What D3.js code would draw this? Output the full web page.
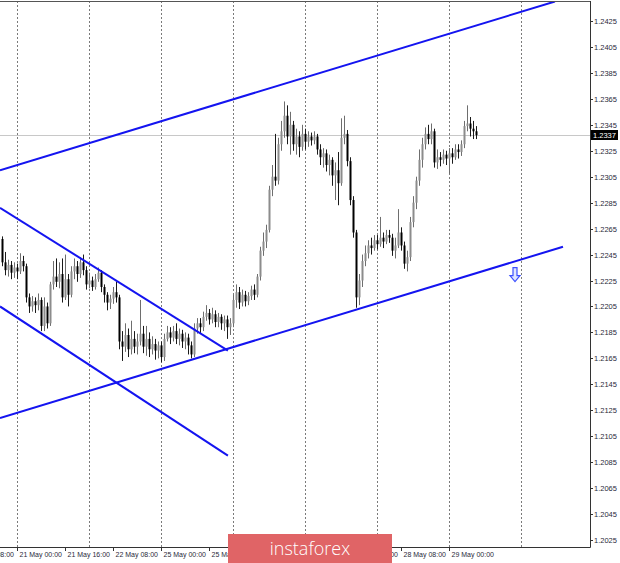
<!DOCTYPE html>
<html>
<head>
<meta charset="utf-8">
<script src="https://cdn.jsdelivr.net/npm/d3@7/dist/d3.min.js"></script>
<style>
  html, body { margin: 0; padding: 0; background: #ffffff; }
  svg { display: block; }
</style>
</head>
<body>
<svg id="chart" width="620" height="563"></svg>
<script>
// ---------- DATA ----------
// Hourly candles [open, high, low, close], index 0 = 20 May 19:00
const ohlc = [
  [1.2257,1.2259,1.2236,1.2239],[1.2239,1.2247,1.2229,1.2233],[1.2233,1.2241,1.2228,1.2237],[1.2237,1.2240,1.2226,1.2231],
  [1.2231,1.2239,1.2227,1.2235],[1.2235,1.2238,1.2226,1.2232],[1.2232,1.2246,1.2230,1.2240],[1.2240,1.2244,1.2232,1.2236],
  [1.2236,1.2238,1.2208,1.2212],[1.2212,1.2215,1.2200,1.2205],[1.2205,1.2213,1.2201,1.2209],[1.2209,1.2212,1.2200,1.2206],
  [1.2206,1.2215,1.2202,1.2210],[1.2210,1.2212,1.2186,1.2190],[1.2190,1.2212,1.2186,1.2205],[1.2205,1.2208,1.2188,1.2192],
  [1.2192,1.2224,1.2190,1.2222],[1.2222,1.2240,1.2218,1.2228],[1.2228,1.2242,1.2220,1.2224],[1.2224,1.2239,1.2219,1.2230],
  [1.2230,1.2242,1.2208,1.2212],[1.2212,1.2245,1.2210,1.2226],[1.2226,1.2230,1.2205,1.2214],[1.2214,1.2236,1.2212,1.2232],
  [1.2232,1.2242,1.2226,1.2236],[1.2236,1.2240,1.2224,1.2230],[1.2230,1.2243,1.2227,1.2239],[1.2239,1.2245,1.2229,1.2233],
  [1.2233,1.2236,1.2218,1.2222],[1.2222,1.2231,1.2219,1.2225],[1.2225,1.2228,1.2217,1.2220],[1.2220,1.2230,1.2218,1.2226],
  [1.2226,1.2235,1.2224,1.2231],[1.2231,1.2233,1.2216,1.2220],[1.2220,1.2222,1.2208,1.2214],[1.2214,1.2216,1.2202,1.2208],
  [1.2208,1.2214,1.2203,1.2211],[1.2211,1.2220,1.2207,1.2216],[1.2216,1.2224,1.2208,1.2212],[1.2212,1.2214,1.2172,1.2178],
  [1.2178,1.2186,1.2163,1.2174],[1.2174,1.2192,1.2170,1.2183],[1.2183,1.2188,1.2166,1.2172],[1.2172,1.2194,1.2168,1.2180],
  [1.2180,1.2186,1.2169,1.2174],[1.2174,1.2184,1.2168,1.2178],[1.2178,1.2210,1.2175,1.2184],[1.2184,1.2190,1.2169,1.2174],
  [1.2174,1.2190,1.2167,1.2180],[1.2180,1.2185,1.2166,1.2172],[1.2172,1.2182,1.2168,1.2176],[1.2176,1.2180,1.2164,1.2171],
  [1.2171,1.2178,1.2165,1.2175],[1.2175,1.2178,1.2162,1.2166],[1.2166,1.2184,1.2163,1.2180],[1.2180,1.2190,1.2178,1.2185],
  [1.2185,1.2189,1.2176,1.2181],[1.2181,1.2190,1.2178,1.2186],[1.2186,1.2192,1.2176,1.2180],[1.2180,1.2188,1.2175,1.2184],
  [1.2184,1.2187,1.2173,1.2178],[1.2178,1.2185,1.2172,1.2181],[1.2181,1.2184,1.2168,1.2175],[1.2175,1.2178,1.2165,1.2168],
  [1.2168,1.2192,1.2166,1.2188],[1.2188,1.2196,1.2184,1.2192],[1.2192,1.2196,1.2184,1.2189],[1.2189,1.2201,1.2186,1.2197],
  [1.2197,1.2206,1.2194,1.2200],[1.2200,1.2203,1.2191,1.2195],[1.2195,1.2204,1.2192,1.2199],[1.2199,1.2202,1.2189,1.2193],
  [1.2193,1.2200,1.2189,1.2197],[1.2197,1.2199,1.2187,1.2192],[1.2192,1.2198,1.2186,1.2195],[1.2195,1.2198,1.2180,1.2189],
  [1.2189,1.2196,1.2183,1.2192],[1.2192,1.2214,1.2189,1.2210],[1.2210,1.2222,1.2204,1.2216],[1.2216,1.2220,1.2203,1.2208],
  [1.2208,1.2218,1.2205,1.2214],[1.2214,1.2217,1.2205,1.2209],[1.2209,1.2216,1.2206,1.2213],[1.2213,1.2221,1.2210,1.2218],
  [1.2218,1.2222,1.2210,1.2214],[1.2214,1.2230,1.2212,1.2228],[1.2228,1.2251,1.2225,1.2248],[1.2248,1.2262,1.2244,1.2255],
  [1.2255,1.2268,1.2250,1.2264],[1.2264,1.2298,1.2262,1.2295],[1.2295,1.2314,1.2290,1.2305],[1.2305,1.2338,1.2298,1.2302],
  [1.2302,1.2335,1.2299,1.2330],[1.2330,1.2348,1.2325,1.2340],[1.2340,1.2363,1.2335,1.2352],[1.2352,1.2360,1.2330,1.2336],
  [1.2336,1.2355,1.2322,1.2345],[1.2345,1.2348,1.2325,1.2330],[1.2330,1.2342,1.2322,1.2336],[1.2336,1.2340,1.2320,1.2328],
  [1.2328,1.2345,1.2325,1.2338],[1.2338,1.2342,1.2326,1.2332],[1.2332,1.2340,1.2328,1.2336],[1.2336,1.2339,1.2329,1.2333],
  [1.2333,1.2340,1.2330,1.2336],[1.2336,1.2338,1.2322,1.2326],[1.2326,1.2330,1.2314,1.2320],[1.2320,1.2327,1.2312,1.2323],
  [1.2323,1.2326,1.2309,1.2314],[1.2314,1.2322,1.2306,1.2318],[1.2318,1.2320,1.2298,1.2306],[1.2306,1.2316,1.2287,1.2310],
  [1.2310,1.2324,1.2283,1.2300],[1.2300,1.2350,1.2298,1.2335],[1.2335,1.2352,1.2330,1.2338],[1.2338,1.2341,1.2313,1.2317],
  [1.2317,1.2320,1.2283,1.2287],[1.2287,1.2290,1.2258,1.2262],[1.2262,1.2264,1.2204,1.2212],[1.2212,1.2230,1.2206,1.2225],
  [1.2225,1.2245,1.2220,1.2240],[1.2240,1.2252,1.2236,1.2246],[1.2246,1.2256,1.2242,1.2252],[1.2252,1.2258,1.2245,1.2250],
  [1.2250,1.2260,1.2248,1.2256],[1.2256,1.2260,1.2249,1.2253],[1.2253,1.2274,1.2251,1.2258],[1.2258,1.2262,1.2250,1.2255],
  [1.2255,1.2264,1.2253,1.2260],[1.2260,1.2264,1.2254,1.2258],[1.2258,1.2261,1.2244,1.2248],[1.2248,1.2258,1.2242,1.2252],
  [1.2252,1.2280,1.2250,1.2262],[1.2262,1.2266,1.2248,1.2252],[1.2252,1.2255,1.2234,1.2238],[1.2238,1.2248,1.2232,1.2243],
  [1.2243,1.2274,1.2240,1.2270],[1.2270,1.2290,1.2266,1.2285],[1.2285,1.2305,1.2280,1.2302],[1.2302,1.2326,1.2298,1.2318],
  [1.2318,1.2335,1.2312,1.2330],[1.2330,1.2343,1.2326,1.2338],[1.2338,1.2345,1.2330,1.2334],[1.2334,1.2346,1.2330,1.2340],
  [1.2340,1.2342,1.2312,1.2316],[1.2316,1.2326,1.2311,1.2320],[1.2320,1.2324,1.2313,1.2318],[1.2318,1.2326,1.2315,1.2322],
  [1.2322,1.2325,1.2314,1.2319],[1.2319,1.2327,1.2307,1.2323],[1.2323,1.2327,1.2315,1.2320],[1.2320,1.2330,1.2318,1.2326],
  [1.2326,1.2330,1.2319,1.2324],[1.2324,1.2333,1.2321,1.2330],[1.2330,1.2348,1.2327,1.2344],[1.2344,1.2360,1.2340,1.2346],
  [1.2346,1.2351,1.2336,1.2342],[1.2342,1.2348,1.2334,1.2340],[1.2340,1.2344,1.2334,1.2337]
];

// Price axis ticks
const priceTicks = [1.2025,1.2045,1.2065,1.2085,1.2105,1.2125,1.2145,1.2165,1.2185,1.2205,
                    1.2225,1.2245,1.2265,1.2285,1.2305,1.2325,1.2345,1.2365,1.2385,1.2405,1.2425];
const currentPrice = 1.2337;

// Time axis labels (candle index, text)
const timeLabelIdx  = [-11, 5, 21, 37, 53, 69, 85, 101, 117, 133, 149];
const timeLabelText = ["20 May 08:00","21 May 00:00","21 May 16:00","22 May 08:00","25 May 00:00",
                       "25 May 16:00","26 May 08:00","27 May 00:00","27 May 16:00","28 May 08:00","29 May 00:00"];
// Day separators (candle index of each 00:00)
const daySeparators = [5, 29, 53, 77, 101, 125, 149, 173];

// Trend lines: [index1, price1, index2, price2]
const trendLines = [
  [-0.67, 1.2310, 184.3, 1.2440],
  [-0.67, 1.2119, 187.0, 1.2251],
  [-0.67, 1.2281, 75.3, 1.2171],
  [-0.67, 1.2205, 75.3, 1.2090]
];
// Down arrow marker: [index, price at top]
const arrowMarker = [171, 1.2235];

// ---------- LAYOUT ----------
const plotRight = 590, plotTop = 1, plotBottom = 547;

const x = d3.scaleLinear().domain([0, 196]).range([2, 590]);
const y = d3.scaleLinear().domain([1.2025, 1.2425]).range([540, 21]);

const svg = d3.select("#chart");
const font = "'Liberation Sans', Arial, sans-serif";

svg.append("defs").append("clipPath").attr("id", "plotClip")
  .append("rect").attr("x", 0).attr("y", plotTop).attr("width", plotRight).attr("height", plotBottom - plotTop);

const plot = svg.append("g").attr("clip-path", "url(#plotClip)");

// day separators (dotted)
plot.selectAll("line.sep").data(daySeparators).enter().append("line")
  .attr("x1", d => Math.round(x(d)) + 0.5).attr("x2", d => Math.round(x(d)) + 0.5)
  .attr("y1", plotTop).attr("y2", plotBottom)
  .attr("stroke", "#7a7a7a").attr("stroke-width", 1).attr("stroke-dasharray", "2,2");

// current price line
plot.append("line")
  .attr("x1", 0).attr("x2", plotRight)
  .attr("y1", Math.round(y(currentPrice)) + 0.5).attr("y2", Math.round(y(currentPrice)) + 0.5)
  .attr("stroke", "#c8c8c8").attr("stroke-width", 1);

// candles
const cg = plot.append("g");
ohlc.forEach((d, i) => {
  const [o, h, l, c] = d;
  const cx = Math.round(x(i));
  const bull = c >= o;
  cg.append("line")
    .attr("x1", cx + 0.5).attr("x2", cx + 0.5)
    .attr("y1", y(h)).attr("y2", y(l))
    .attr("stroke", bull ? "#6e6e6e" : "#1a1a1a").attr("stroke-width", 1);
  const top = y(Math.max(o, c)), bot = y(Math.min(o, c));
  cg.append("rect")
    .attr("x", cx - 0.5).attr("width", 2)
    .attr("y", top).attr("height", Math.max(1, bot - top))
    .attr("fill", bull ? "#8c8c8c" : "#000000");
});

// trend lines
plot.selectAll("line.trend").data(trendLines).enter().append("line")
  .attr("x1", d => x(d[0])).attr("y1", d => y(d[1]))
  .attr("x2", d => x(d[2])).attr("y2", d => y(d[3]))
  .attr("stroke", "#1414f0").attr("stroke-width", 2);

// down arrow
const ax = x(arrowMarker[0]), ay = y(arrowMarker[1]);
plot.append("path")
  .attr("d", `M${ax-2},${ay} L${ax+2},${ay} L${ax+2},${ay+8} L${ax+5},${ay+8} L${ax},${ay+14} L${ax-5},${ay+8} L${ax-2},${ay+8} Z`)
  .attr("fill", "#dfe6ff").attr("stroke", "#3c50ff").attr("stroke-width", 1.2);

// frame
svg.append("line").attr("x1", 0).attr("x2", plotRight + 0.5).attr("y1", plotTop + 0.5).attr("y2", plotTop + 0.5)
  .attr("stroke", "#555").attr("stroke-width", 1);
svg.append("line").attr("x1", plotRight + 0.5).attr("x2", plotRight + 0.5).attr("y1", plotTop).attr("y2", plotBottom + 0.5)
  .attr("stroke", "#333").attr("stroke-width", 1);
svg.append("line").attr("x1", 0).attr("x2", plotRight + 0.5).attr("y1", plotBottom + 0.5).attr("y2", plotBottom + 0.5)
  .attr("stroke", "#333").attr("stroke-width", 1);

// price axis
const yAxis = svg.append("g");
priceTicks.forEach(p => {
  const ty = Math.round(y(p)) + 0.5;
  yAxis.append("line").attr("x1", plotRight).attr("x2", plotRight + 3).attr("y1", ty).attr("y2", ty)
    .attr("stroke", "#333");
  yAxis.append("text").attr("x", plotRight + 4).attr("y", ty).attr("dy", "0.35em")
    .attr("font-family", font).attr("font-size", "7.5px").attr("fill", "#2a2a3a")
    .text(p.toFixed(4));
});
// current price badge
const cy = Math.round(y(currentPrice));
yAxis.append("rect").attr("x", plotRight + 1).attr("y", cy - 5).attr("width", 27).attr("height", 10).attr("fill", "#000");
yAxis.append("text").attr("x", plotRight + 14.5).attr("y", cy).attr("dy", "0.35em")
  .attr("text-anchor", "middle").attr("font-family", font).attr("font-size", "7.5px").attr("fill", "#fff")
  .text(currentPrice.toFixed(4));

// time axis
const xAxis = svg.append("g");
timeLabelIdx.forEach((k, i) => {
  const tx = Math.round(x(k)) + 0.5;
  xAxis.append("line").attr("x1", tx).attr("x2", tx).attr("y1", plotBottom).attr("y2", plotBottom + 4)
    .attr("stroke", "#333");
  xAxis.append("text").attr("x", tx + 2).attr("y", plotBottom + 8).attr("dy", "0.35em")
    .attr("font-family", font).attr("font-size", "7px").attr("fill", "#2a2a3a")
    .text(timeLabelText[i]);
});

// watermark logo
const logo = svg.append("g");
logo.append("rect").attr("x", 228).attr("y", 534).attr("width", 164).attr("height", 29).attr("fill", "#e06466");
logo.append("text").attr("x", 310).attr("y", 549).attr("dy", "0.35em").attr("text-anchor", "middle")
  .attr("font-family", "'Open Sans', Lato, sans-serif").attr("font-weight", 300)
  .attr("font-size", "18px").attr("fill", "#ffffff").text("instaforex");
</script>
</body>
</html>
